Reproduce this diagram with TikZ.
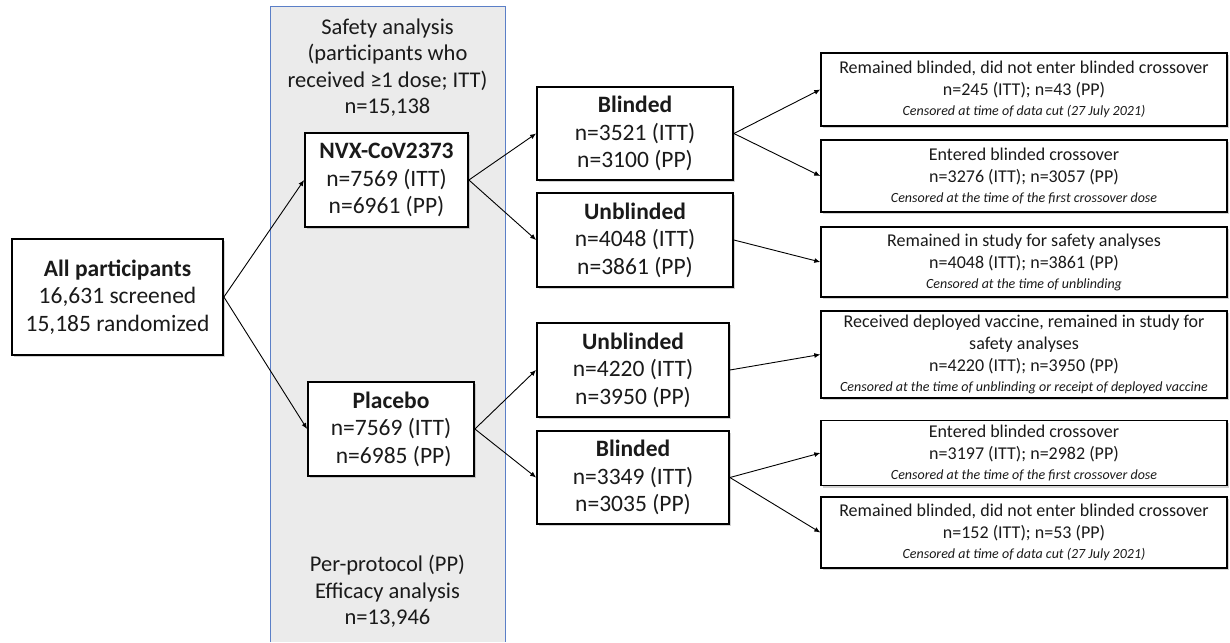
\documentclass[tikz,border=0pt]{standalone}
\usepackage{fontspec}
\setmainfont{Carlito}
\usetikzlibrary{shadows,arrows.meta}
\definecolor{panelfill}{HTML}{EBEBEB}
\definecolor{panelline}{HTML}{5B7FC7}
\definecolor{txt}{HTML}{1A1A1A}
\begin{document}
\begin{tikzpicture}[x=1pt,y=-1pt,
  box/.style={draw=black, line width=1.8pt, fill=white, inner sep=0pt, align=center, text=txt,
    drop shadow={shadow xshift=1.5pt, shadow yshift=-2pt, opacity=0.35},
    font=\fontsize{23.5}{27.5}\selectfont},
  rbox/.style={box, line width=1.4pt, minimum width=406pt, font=\fontsize{18}{22}\selectfont},
  ptext/.style={align=center, text=txt, font=\fontsize{22.5}{26.5}\selectfont, inner sep=0pt},
  conn/.style={line width=0.9pt, -{Latex[length=6pt,width=5pt]}}
]
\useasboundingbox (0,0) rectangle (1230,642);
% background panel
\fill[panelfill] (270,6) rectangle (505,642);
\draw[panelline, line width=0.8pt] (270,642) -- (270,6) -- (505,6) -- (505,642);
\node[ptext] (saf) at (387.5,67.5) {Safety analysis\\(participants who\\received ≥1 dose; ITT)\\n=15,138};
\node[ptext] (pp) at (387.5,591.5) {Per-protocol (PP)\\Efficacy analysis\\n=13,946};

% main boxes
\node[box, minimum width=211pt, minimum height=116pt] (all) at (117.5,297)
  {\textbf{All participants}\\16,631 screened\\15,185 randomized};
\node[box, minimum width=163pt, minimum height=94pt] (nvx) at (386.5,180)
  {\textbf{NVX-CoV2373}\\n=7569 (ITT)\\n=6961 (PP)};
\node[box, minimum width=166pt, minimum height=94pt] (pla) at (391,429)
  {\textbf{Placebo}\\n=7569 (ITT)\\\ n=6985 (PP)};
\node[box, minimum width=196pt, minimum height=93pt] (b1) at (635,133.5)
  {\textbf{Blinded}\\n=3521 (ITT)\\n=3100 (PP)};
\node[box, minimum width=196pt, minimum height=94pt] (u1) at (635,240)
  {\textbf{Unblinded}\\n=4048 (ITT)\\n=3861 (PP)};
\node[box, minimum width=192pt, minimum height=94pt] (u2) at (633,370)
  {\textbf{Unblinded}\\n=4220 (ITT)\\n=3950 (PP)};
\node[box, minimum width=192pt, minimum height=93pt] (b2) at (633,477.5)
  {\textbf{Blinded}\\n=3349 (ITT)\\n=3035 (PP)};

% right boxes
\node[rbox, minimum height=73pt] (r1) at (1024,89.5)
  {Remained blinded, did not enter blinded crossover\\n=245 (ITT); n=43 (PP)\\[-2pt]{\fontsize{14}{16}\selectfont\itshape Censored at time of data cut (27 July 2021)}};
\node[rbox, minimum height=72pt] (r2) at (1024,176)
  {Entered blinded crossover\\n=3276 (ITT); n=3057 (PP)\\[-2pt]{\fontsize{14}{16}\selectfont\itshape Censored at the time of the first crossover dose}};
\node[rbox, minimum height=70pt] (r3) at (1024,262)
  {Remained in study for safety analyses\\n=4048 (ITT); n=3861 (PP)\\[-2pt]{\fontsize{14}{16}\selectfont\itshape Censored at the time of unblinding}};
\node[rbox, minimum height=87pt] (r4) at (1024,354.5)
  {Received deployed vaccine, remained in study for\\safety analyses\\n=4220 (ITT); n=3950 (PP)\\[-2pt]{\fontsize{14}{16}\selectfont\itshape Censored at the time of unblinding or receipt of deployed vaccine}};
\node[rbox, minimum height=65pt] (r5) at (1024,453)
  {Entered blinded crossover\\n=3197 (ITT); n=2982 (PP)\\[-2pt]{\fontsize{14}{16}\selectfont\itshape Censored at the time of the first crossover dose}};
\node[rbox, minimum height=71pt] (r6) at (1024,532.5)
  {Remained blinded, did not enter blinded crossover\\n=152 (ITT); n=53 (PP)\\[-2pt]{\fontsize{14}{16}\selectfont\itshape Censored at time of data cut (27 July 2021)}};

% connectors
\draw[conn] (all.east) -- (nvx.west);
\draw[conn] (all.east) -- (pla.west);
\draw[conn] (nvx.east) -- (b1.west);
\draw[conn] (nvx.east) -- (u1.west);
\draw[conn] (pla.east) -- (u2.west);
\draw[conn] (pla.east) -- (b2.west);
\draw[conn] (b1.east) -- (r1.west);
\draw[conn] (b1.east) -- (r2.west);
\draw[conn] (u1.east) -- (r3.west);
\draw[conn] (u2.east) -- (r4.west);
\draw[conn] (b2.east) -- (r5.west);
\draw[conn] (b2.east) -- (r6.west);
\end{tikzpicture}
\end{document}
